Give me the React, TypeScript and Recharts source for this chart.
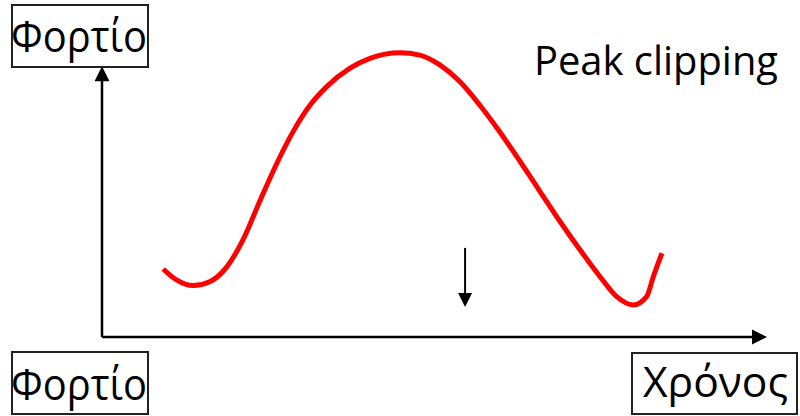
import { LineChart, Line, XAxis, YAxis, ReferenceLine } from 'recharts';

// load curve (time and load in 0..100 units)
const time = [9.2, 11.2, 13.7, 16.2, 18.8, 21.2, 23.8, 26.3, 28.8, 31.3, 33.8, 37.3, 40.3, 44.8, 47.8, 50.8, 53.8, 56.8, 59.8, 62.9, 65.9, 68.9, 71.9, 74.9, 77.4, 79.9, 81.9, 82.9, 84.2];
const load = [22.9, 19.2, 17.3, 18.6, 23.7, 32.7, 46.1, 58.5, 69.4, 78.1, 84.3, 90.5, 93.8, 95.7, 94.9, 91.6, 86.0, 78.1, 69.1, 59.0, 48.9, 38.8, 29.3, 20.3, 13.6, 10.8, 13.6, 20.3, 28.2];

// axis arrows and the "clipping" arrow, in the same units
const loadAxisTop = 91.2;
const timeAxisEnd = 100;
const clipArrowTime = 54.6;
const clipArrowFrom = 30.0;
const clipArrowTo = 10.1;

const data = time.map((t, i) => ({ time: t, load: load[i] }));

const Arrow = (props: any) => {
  const { x1, y1, x2, y2, sw = 2.5, head = 15, half = 7.5 } = props;
  const dx = x2 - x1;
  const dy = y2 - y1;
  const len = Math.hypot(dx, dy) || 1;
  const ux = dx / len;
  const uy = dy / len;
  const bx = x2 - ux * head;
  const by = y2 - uy * head;
  const pts = `${x2},${y2} ${bx - uy * half},${by + ux * half} ${bx + uy * half},${by - ux * half}`;
  return (
    <g>
      <line x1={x1} y1={y1} x2={bx + ux} y2={by + uy} stroke="#000" strokeWidth={sw} />
      <polygon points={pts} fill="#000" />
    </g>
  );
};

const font = '"Open Sans", "Noto Sans", sans-serif';

export default function App() {
  return (
    <div style={{ position: 'absolute', left: 0, top: 0, width: 800, height: 416, background: '#fff' }}>
      <LineChart width={800} height={416} data={data} margin={{ top: 40, right: 33, left: 102, bottom: 79 }}>
        <XAxis type="number" dataKey="time" domain={[0, 100]} hide />
        <YAxis type="number" domain={[0, 100]} hide />
        <ReferenceLine
          segment={[{ x: 0, y: 0 }, { x: 0, y: loadAxisTop }]}
          ifOverflow="visible"
          shape={(p: any) => <Arrow {...p} />}
        />
        <ReferenceLine
          segment={[{ x: 0, y: 0 }, { x: timeAxisEnd, y: 0 }]}
          ifOverflow="visible"
          shape={(p: any) => <Arrow {...p} />}
        />
        <ReferenceLine
          segment={[{ x: clipArrowTime, y: clipArrowFrom }, { x: clipArrowTime, y: clipArrowTo }]}
          ifOverflow="visible"
          shape={(p: any) => <Arrow {...p} sw={2} head={14} half={7} />}
        />
        <Line
          type="monotone"
          dataKey="load"
          stroke="#ff0000"
          strokeWidth={5}
          dot={false}
          isAnimationActive={false}
        />
      </LineChart>
      <svg width={800} height={416} style={{ position: 'absolute', left: 0, top: 0, pointerEvents: 'none' }}>
        <rect x={12} y={5} width={136} height={62} fill="none" stroke="#222" strokeWidth={2} />
        <text x={11} y={52} fontFamily={font} fontSize={44} textLength={136} lengthAdjust="spacingAndGlyphs" fill="#000">Φορτίο</text>
        <rect x={12} y={352} width={136} height={62} fill="none" stroke="#222" strokeWidth={2} />
        <text x={11} y={400} fontFamily={font} fontSize={44} textLength={136} lengthAdjust="spacingAndGlyphs" fill="#000">Φορτίο</text>
        <rect x={632} y={353} width={165} height={61} fill="none" stroke="#222" strokeWidth={2} />
        <text x={643} y={397} fontFamily={font} fontSize={42} textLength={145} lengthAdjust="spacingAndGlyphs" fill="#000">Χρόνος</text>
        <text x={534} y={75} fontFamily={font} fontSize={41} textLength={244} lengthAdjust="spacingAndGlyphs" fill="#000">Peak clipping</text>
      </svg>
    </div>
  );
}
